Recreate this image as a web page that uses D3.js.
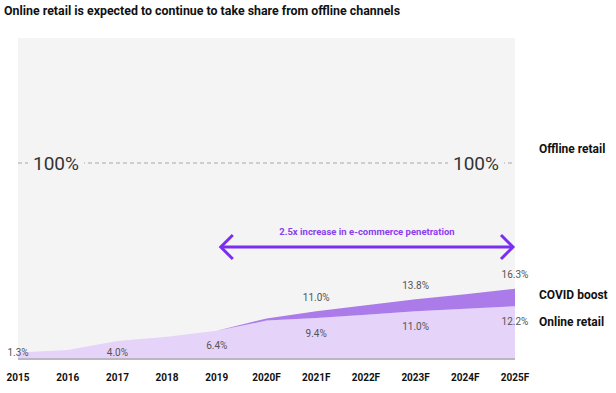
<!DOCTYPE html>
<html>
<head>
<meta charset="utf-8">
<script src="https://cdn.jsdelivr.net/npm/d3@7"></script>
<style>
  body { margin: 0; background: #fff; }
  svg { display: block; font-family: Roboto, "Noto Sans", sans-serif; }
</style>
</head>
<body>
<div id="chart"></div>
<script>
// datos
var years = ["2015", "2016", "2017", "2018", "2019", "2020F", "2021F", "2022F", "2023F", "2024F", "2025F"];
var online = [1.3, 1.9, 4.0, 5.0, 6.4, 8.8, 9.4, 10.2, 11.0, 11.6, 12.2];
var boost = [0, 0, 0, 0, 0, 0.5, 1.6, 2.2, 2.8, 3.4, 4.1];
var onlineLabels = [{year: "2015", text: "1.3%", v: 1.3}, {year: "2017", text: "4.0%", v: 4.0}, {year: "2019", text: "6.4%", v: 6.4},
                    {year: "2021F", text: "9.4%", v: 9.4}, {year: "2023F", text: "11.0%", v: 11.0}, {year: "2025F", text: "12.2%", v: 12.2}];
var totalLabels = [{year: "2021F", text: "11.0%", v: 11.0}, {year: "2023F", text: "13.8%", v: 13.8}, {year: "2025F", text: "16.3%", v: 16.3}];
var seriesNames = ["Offline retail", "COVID boost", "Online retail"];

var width = 616, height = 393,
    panel = {left: 18, right: 515, top: 38, bottom: 358};

var svg = d3.select("#chart").append("svg")
    .attr("width", width)
    .attr("height", height);

var x = d3.scalePoint().domain(years).range([panel.left, panel.right]);
var y = d3.scaleLinear().domain([0, 20]).range([panel.bottom, panel.bottom - 85]);

// titulo
svg.append("text")
    .attr("x", 4).attr("y", 15)
    .attr("font-size", 13).attr("font-weight", 700).attr("fill", "#111")
    .attr("textLength", 396).attr("lengthAdjust", "spacingAndGlyphs")
    .text("Online retail is expected to continue to take share from offline channels");

// fondo
svg.append("rect")
    .attr("x", panel.left).attr("y", panel.top)
    .attr("width", panel.right - panel.left).attr("height", panel.bottom - panel.top)
    .attr("fill", "#f4f4f4");

// areas apiladas
var table = years.map(function(d, i) { return {year: d, online: online[i], boost: boost[i]}; });
var stack = d3.stack().keys(["online", "boost"])(table);
var area = d3.area()
    .x(function(d) { return x(d.data.year); })
    .y0(function(d) { return y(d[0]); })
    .y1(function(d) { return y(d[1]); });
var colors = {online: "#e5d3fa", boost: "#ab7ce9"};

svg.append("g").selectAll("path")
    .data(stack)
    .enter().append("path")
    .attr("d", area)
    .attr("fill", function(d) { return colors[d.key]; });

svg.append("line")
    .attr("x1", panel.left).attr("x2", panel.right)
    .attr("y1", y(0) + 1).attr("y2", y(0) + 1)
    .attr("stroke", "#bbb6c0").attr("stroke-width", 2);

// linea 100%
var lineY = 163;
svg.append("line")
    .attr("x1", panel.left).attr("x2", panel.right)
    .attr("y1", lineY).attr("y2", lineY)
    .attr("stroke", "#a8a8a8").attr("stroke-width", 1.2)
    .attr("stroke-dasharray", "4,3");

[56, 476].forEach(function(cx) {
    svg.append("rect")
        .attr("x", cx - 28).attr("y", lineY - 10)
        .attr("width", 56).attr("height", 20)
        .attr("fill", "#f4f4f4");
    svg.append("text")
        .attr("x", cx).attr("y", lineY)
        .attr("dy", "0.35em").attr("text-anchor", "middle")
        .attr("font-size", 19).attr("fill", "#333")
        .text("100%");
});

// flecha
var ay = 247, ax0 = x("2019") + 4, ax1 = x("2025F") - 2;
var purple = "#7a2ff0";
svg.append("line")
    .attr("x1", ax0 + 1).attr("x2", ax1 - 1)
    .attr("y1", ay).attr("y2", ay)
    .attr("stroke", purple).attr("stroke-width", 3);
svg.append("path")
    .attr("d", "M" + (ax0 + 12) + "," + (ay - 12) + "L" + ax0 + "," + ay + "L" + (ax0 + 12) + "," + (ay + 12))
    .attr("fill", "none").attr("stroke", purple).attr("stroke-width", 3);
svg.append("path")
    .attr("d", "M" + (ax1 - 12) + "," + (ay - 12) + "L" + ax1 + "," + ay + "L" + (ax1 - 12) + "," + (ay + 12))
    .attr("fill", "none").attr("stroke", purple).attr("stroke-width", 3);
svg.append("text")
    .attr("x", (ax0 + ax1) / 2).attr("y", ay - 15)
    .attr("dy", "0.35em").attr("text-anchor", "middle")
    .attr("font-size", 9.5).attr("font-weight", 700).attr("fill", "#8a3ff0")
    .text("2.5x increase in e-commerce penetration");

// etiquetas de valores
svg.append("g").selectAll("text")
    .data(onlineLabels)
    .enter().append("text")
    .attr("x", function(d) { return x(d.year); })
    .attr("y", function(d) { return Math.min(y(d.v) + 15, y(0) - 6); })
    .attr("dy", "0.35em").attr("text-anchor", "middle")
    .attr("font-size", 10).attr("fill", "#555")
    .text(function(d) { return d.text; });

svg.append("g").selectAll("text")
    .data(totalLabels)
    .enter().append("text")
    .attr("x", function(d) { return x(d.year); })
    .attr("y", function(d) { return y(d.v) - 14; })
    .attr("dy", "0.35em").attr("text-anchor", "middle")
    .attr("font-size", 10).attr("fill", "#555")
    .text(function(d) { return d.text; });

// eje x
svg.append("g")
    .attr("transform", "translate(0," + 377 + ")")
    .selectAll("text")
    .data(years)
    .enter().append("text")
    .attr("x", function(d) { return x(d); })
    .attr("dy", "0.35em").attr("text-anchor", "middle")
    .attr("font-size", 10).attr("font-weight", 700).attr("fill", "#111")
    .text(function(d) { return d; });

// leyenda a la derecha
var legendY = [149, y(online[10] + boost[10] / 2) + 0, 322];
legendY[1] = 295;
svg.append("g").selectAll("text")
    .data(seriesNames)
    .enter().append("text")
    .attr("x", 539)
    .attr("y", function(d, i) { return legendY[i]; })
    .attr("dy", "0.35em")
    .attr("font-size", 12).attr("font-weight", 700).attr("fill", "#111")
    .text(function(d) { return d; });
</script>
</body>
</html>
